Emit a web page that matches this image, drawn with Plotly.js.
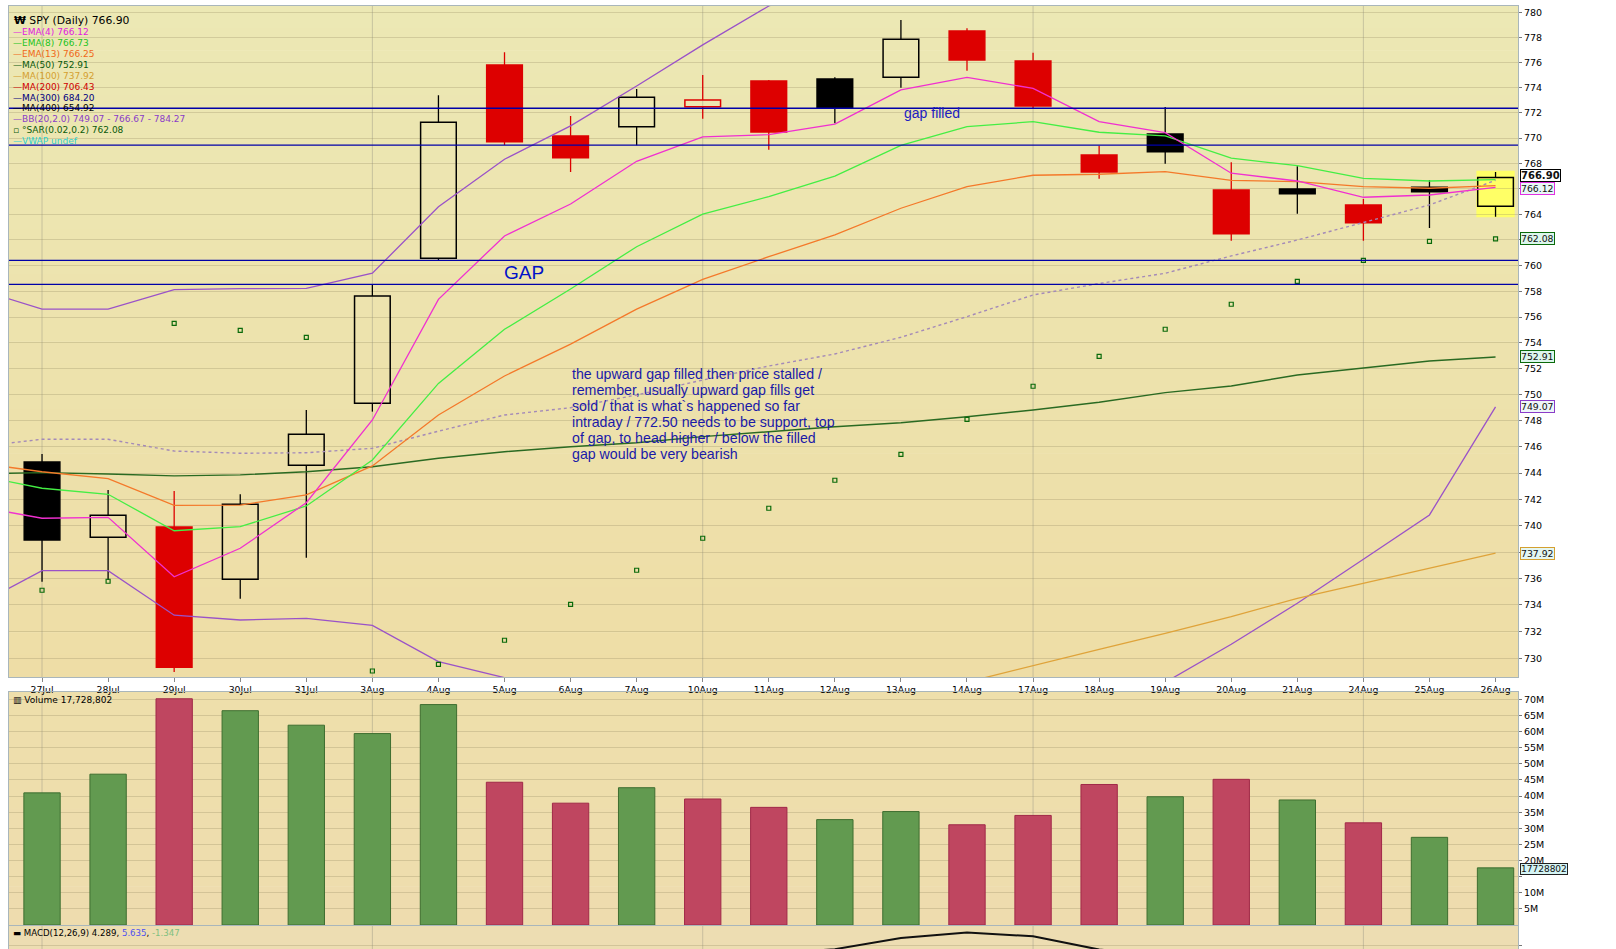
<!DOCTYPE html>
<html><head><meta charset="utf-8">
<script src="https://cdn.plot.ly/plotly-3.0.1.min.js"></script>
<style>html,body{margin:0;padding:0;background:#fff;}#chart{width:1616px;height:949px;}</style>
</head><body><div id="chart"></div>
<script>
// ---------- data ----------
const dates = ['27Jul','28Jul','29Jul','30Jul','31Jul','3Aug','4Aug','5Aug','6Aug','7Aug','10Aug','11Aug','12Aug','13Aug','14Aug','17Aug','18Aug','19Aug','20Aug','21Aug','24Aug','25Aug','26Aug'];
const mondays = ['27Jul','3Aug','10Aug','17Aug','24Aug'];
const openP  = [744.84,739.11,739.90,735.94,744.59,749.34,760.57,775.79,770.17,770.90,772.48,774.52,774.68,774.81,778.50,776.11,768.67,770.32,765.91,765.99,764.74,766.12,764.63];
const highP  = [745.45,742.71,742.63,742.38,748.83,758.49,773.39,776.80,771.75,773.89,775.00,774.60,774.81,779.38,778.72,776.77,769.40,772.46,768.09,767.78,765.21,766.70,767.33];
const lowP   = [735.76,735.89,728.97,734.47,737.57,748.70,760.43,769.45,767.33,769.43,771.53,769.08,771.17,773.99,775.34,772.36,766.80,767.98,761.94,764.05,761.94,762.93,763.82];
const closeP = [738.90,740.78,729.33,741.62,746.96,757.63,771.25,769.71,768.45,773.23,773.01,770.48,772.36,777.84,776.19,772.54,767.33,768.93,762.49,765.62,763.35,765.78,766.90];
const volumeM = [41.0,46.8,70.2,66.5,62.0,59.4,68.4,44.3,37.8,42.6,39.1,36.5,32.7,35.2,31.1,34.0,43.6,39.8,45.2,38.8,31.7,27.2,17.73];
const volumeLast = 17728802;

// indicator lines: first value belongs to the previous session (24Jul), left of the plot
const ema4  = [741.47,740.56,740.63,736.13,738.28,741.74,748.06,757.37,762.31,764.81,768.17,770.09,770.27,771.11,773.81,774.81,773.94,771.30,770.43,767.23,766.62,765.34,765.52,766.12];
const ema8  = [743.84,742.84,742.38,739.61,739.92,741.49,745.00,750.87,755.05,758.18,761.47,764.01,765.39,767.00,769.43,770.90,771.30,770.46,770.17,768.41,767.82,766.83,766.62,766.73];
const ema13 = [744.78,744.10,743.57,741.54,741.56,742.33,744.54,748.44,751.44,753.90,756.61,758.93,760.69,762.39,764.48,766.17,767.07,767.15,767.35,766.67,766.57,766.17,766.05,766.25];
const ma50  = [743.94,744.03,743.93,743.78,743.86,744.10,744.48,745.13,745.63,746.01,746.32,746.78,747.16,747.54,747.85,748.31,748.83,749.42,750.16,750.67,751.52,752.04,752.60,752.91];
const ma100 = [null,null,null,null,null,null,null,null,null,null,null,null,null,null,727.00,728.23,729.44,730.67,731.87,733.12,734.50,735.64,736.77,737.92];
const bbMid = [746.00,746.58,746.58,745.68,745.51,745.55,745.89,747.20,748.44,749.00,749.98,751.13,752.21,753.14,754.43,756.03,757.71,758.60,759.40,760.75,761.99,763.35,764.74,766.67];
const bbUp  = [758.20,756.61,756.61,758.13,758.20,758.23,759.40,764.60,768.33,770.96,774.12,777.39,780.50,782.10,784.40,787.00,789.20,790.10,790.60,790.45,789.85,789.25,788.67,784.27];
const bbLow = [733.93,736.59,736.59,733.23,732.87,733.00,732.47,729.75,728.55,727.04,725.84,724.87,723.90,724.10,724.40,725.00,726.20,727.10,728.20,731.05,734.13,737.45,740.81,749.07];
const sar   = [735.11,735.79,755.51,754.97,754.43,729.05,729.55,731.35,734.05,736.62,739.04,741.32,743.45,745.43,748.11,750.65,752.96,755.05,756.99,758.77,760.41,761.89,762.08];
const macd  = [1.1,0.8,-0.4,-0.7,-0.5,0.6,2.5,4.0,5.0,6.0,6.6,6.9,7.5,9.04,9.76,9.27,7.45,6.6,5.4,4.9,4.4,4.2,4.289];
const macdSignal = 5.635, macdHist = -1.347;
const offChartMA = {ma200: 706.43, ma300: 684.20, ma400: 654.92};
const gapLevels = [772.36, 769.45, 760.41, 758.54];
const priceTicks = [730,732,734,736,738,740,742,744,746,748,750,752,754,756,758,760,762,764,766,768,770,772,774,776,778,780];
const priceTickText = ['730','732','734','736','','740','742','744','746','748','750','752','754','756','758','760','','764','','768','770','772','774','776','778','780'];
const volTicks = [5,10,15,20,25,30,35,40,45,50,55,60,65,70];
const volTickText = ['5M','10M','','20M','25M','30M','35M','40M','45M','50M','55M','60M','65M','70M'];
const macdTicks = [8];
const noteLines = ['the upward gap filled then price stalled /','remember, usually upward gap fills get','sold / that is what`s happened so far','intraday / 772.50 needs to be support, top','of gap, to head higher / below the filled','gap would be very bearish'];

// ---------- geometry helpers ----------
const H = 949;
const py = px => (H - px) / H;
const L10 = Math.log10;
const idx = dates.map((d, i) => i);
const lineX = [-1].concat(idx);
const last = dates.length - 1;

// ---------- candles ----------
const isRed = closeP.map((c, i) => i > 0 && c < closeP[i - 1]);
const isFilled = closeP.map((c, i) => c < openP[i]);
const cCol = isRed.map(r => r ? '#dd0000' : '#000000');
const bodyBase = openP.map((o, i) => Math.min(o, closeP[i]));
const bodySize = openP.map((o, i) => Math.max(Math.abs(closeP[i] - o), 0.06));
const bodyFill = idx.map(i => isFilled[i] ? cCol[i] : 'rgba(0,0,0,0)');

function wicks(sel) {
  const x = [], y = [];
  idx.forEach(i => {
    if (!sel(i)) return;
    const top = Math.max(openP[i], closeP[i]), bot = Math.min(openP[i], closeP[i]);
    x.push(i, i, null, i, i, null);
    y.push(top, highP[i], null, lowP[i], bot, null);
  });
  return {x, y};
}
const wb = wicks(i => !isRed[i]), wr = wicks(i => isRed[i]);

const traces = [];
traces.push({type:'scatter', mode:'lines', x:wb.x, y:wb.y, line:{color:'#000', width:1.3}, hoverinfo:'skip', xaxis:'x', yaxis:'y'});
traces.push({type:'scatter', mode:'lines', x:wr.x, y:wr.y, line:{color:'#dd0000', width:1.3}, hoverinfo:'skip', xaxis:'x', yaxis:'y'});
traces.push({type:'bar', x:idx, y:bodySize, base:bodyBase, width:0.54,
  marker:{color:bodyFill, line:{color:cCol, width:1.5}}, hoverinfo:'skip', xaxis:'x', yaxis:'y'});

function line(y, color, width, dash) {
  return {type:'scatter', mode:'lines', x:lineX, y:y, line:{color:color, width:width, dash:dash||'solid'},
    connectgaps:false, hoverinfo:'skip', xaxis:'x', yaxis:'y'};
}
traces.push(line(bbUp, '#9a52c8', 1.3));
traces.push(line(bbLow, '#9a52c8', 1.3));
traces.push(line(bbMid, '#a48ab8', 1.4, 'dot'));
traces.push(line(ma100, '#dfa33a', 1.3));
traces.push(line(ma50, '#2a6a22', 1.4));
traces.push(line(ema13, '#f4792a', 1.3));
traces.push(line(ema8, '#44ee44', 1.3));
traces.push(line(ema4, '#f030d0', 1.3));
traces.push({type:'scatter', mode:'markers', x:idx, y:sar,
  marker:{symbol:'square-open', size:4, color:'#0a6a0a', line:{width:1.2, color:'#0a6a0a'}}, hoverinfo:'skip', xaxis:'x', yaxis:'y'});

// ---------- volume ----------
const volUp = closeP.map((c, i) => i === 0 || c >= closeP[i - 1]);
traces.push({type:'bar', x:idx, y:volumeM.map(v => v * 1e6), width:0.55,
  marker:{color:volUp.map(u => u ? '#629a50' : '#bf4660'), line:{color:volUp.map(u => u ? '#3e6e30' : '#a02848'), width:1}},
  hoverinfo:'skip', xaxis:'x2', yaxis:'y2'});

// ---------- MACD ----------
traces.push({type:'scatter', mode:'lines', x:idx, y:macd, line:{color:'#111', width:2}, hoverinfo:'skip', xaxis:'x3', yaxis:'y3'});

// ---------- shapes ----------
const shapes = [];
function bands(pxTop, pxBot, cTop, cBot, n) {
  for (let k = 0; k < n; k++) {
    const t = (k + 0.5) / n;
    const c = cTop.map((v, j) => Math.round(v + (cBot[j] - v) * t));
    shapes.push({type:'rect', xref:'paper', yref:'paper', x0:0, x1:1,
      y0: py(pxTop + (pxBot - pxTop) * (k + 1) / n + 0.6), y1: py(pxTop + (pxBot - pxTop) * k / n),
      fillcolor:'rgb(' + c.join(',') + ')', line:{width:0}, layer:'below'});
  }
}
bands(5.5, 677, [236,232,180], [238,221,166], 30);
bands(692, 925, [238,223,171], [238,220,174], 6);
bands(925, 949, [237,221,178], [237,221,178], 1);

// Monday grid lines, one set per panel
const panelPx = [[5.5, 677], [692, 925], [925, 949]];
panelPx.forEach(p => {
  mondays.forEach(m => {
    const i = dates.indexOf(m);
    shapes.push({type:'line', xref:'x', yref:'paper', x0:i, x1:i, y0:py(p[1]), y1:py(p[0]),
      line:{color:'rgba(130,130,120,0.35)', width:1}, layer:'below'});
  });
});
// shapes on the log price axis take data values here
shapes.push({type:'rect', xref:'x', yref:'y', x0:last - 0.29, x1:last + 0.29,
  y0:lowP[last] - 0.05, y1:highP[last] + 0.1, fillcolor:'#ffff66', line:{width:0}, layer:'below'});
gapLevels.forEach(v => {
  shapes.push({type:'line', xref:'paper', yref:'y', x0:0, x1:1, y0:v, y1:v,
    line:{color:'#0000a8', width:1.3}, layer:'above'});
});

// ---------- annotations ----------
const ann = [];
const legendFont = 'DejaVu Sans';
const legendItems = [
  ['—EMA(4) ' + ema4[ema4.length - 1].toFixed(2), '#e020e0'],
  ['—EMA(8) ' + ema8[ema8.length - 1].toFixed(2), '#22c422'],
  ['—EMA(13) ' + ema13[ema13.length - 1].toFixed(2), '#f06818'],
  ['—MA(50) ' + ma50[ma50.length - 1].toFixed(2), '#0a5a0a'],
  ['—MA(100) ' + ma100[ma100.length - 1].toFixed(2), '#d4a030'],
  ['—MA(200) ' + offChartMA.ma200.toFixed(2), '#d00000'],
  ['—MA(300) ' + offChartMA.ma300.toFixed(2), '#000080'],
  ['—MA(400) ' + offChartMA.ma400.toFixed(2), '#000000'],
  ['—BB(20,2.0) ' + bbLow[bbLow.length - 1].toFixed(2) + ' - ' + bbMid[bbMid.length - 1].toFixed(2) + ' - ' + bbUp[bbUp.length - 1].toFixed(2), '#8a3cc8'],
  ['▫ °SAR(0.02,0.2) ' + sar[last].toFixed(2), '#0a5a0a'],
  ['—VWAP undef', '#30d0d0']
];
const pxX = px => (px - 9) / 1509;
ann.push({xref:'paper', yref:'paper', x:pxX(12), y:py(20.3), xanchor:'left', yanchor:'middle', showarrow:false,
  text:'<b>₩</b> SPY (Daily) ' + closeP[last].toFixed(2), font:{family:legendFont, size:10.8, color:'#000'}});
legendItems.forEach((it, k) => {
  ann.push({xref:'paper', yref:'paper', x:pxX(11), y:py(31.7 + 10.97 * k), xanchor:'left', yanchor:'middle', showarrow:false,
    text:it[0], font:{family:legendFont, size:9, color:it[1]}});
});

// annotations on the log price axis take log10 positions
ann.push({xref:'x', yref:'y', x:7.295, y:L10(759.44), xanchor:'center', yanchor:'middle', showarrow:false,
  text:'GAP', font:{family:'Liberation Sans', size:19, color:'#0010c8'}});
ann.push({xref:'x', yref:'y', x:13.01, y:L10(771.96), xanchor:'left', yanchor:'middle', showarrow:false,
  text:'gap filled', font:{family:'Liberation Sans', size:14, color:'#2020c0'}});
noteLines.forEach((t, k) => {
  ann.push({xref:'paper', yref:'paper', x:pxX(570), y:py(374 + 16 * k), xanchor:'left', yanchor:'middle', showarrow:false,
    text:t, font:{family:'Liberation Sans', size:14.2, color:'#1a1aa8'}});
});

function priceTag(v, txt, border, bg, bold, shift) {
  ann.push({xref:'paper', yref:'y', x:1, xshift:2, yshift:shift || 0, y:L10(v), xanchor:'left', yanchor:'middle', showarrow:false,
    text: bold ? '<b>' + txt + '</b>' : txt, bgcolor:bg, bordercolor:border, borderwidth:1, borderpad:0,
    font:{family:'DejaVu Sans', size: bold ? 10 : 9.3, color:'#111'}});
}
priceTag(ma100[ma100.length - 1], ma100[ma100.length - 1].toFixed(2), '#d4a030', '#e4f6f2');
priceTag(bbLow[bbLow.length - 1], bbLow[bbLow.length - 1].toFixed(2), '#8a3cc8', '#eef6f8');
priceTag(ma50[ma50.length - 1], ma50[ma50.length - 1].toFixed(2), '#0a6a0a', '#dcf6ec');
priceTag(sar[last], sar[last].toFixed(2), '#0a6a0a', '#dcf6ec');
priceTag(ema4[ema4.length - 1], ema4[ema4.length - 1].toFixed(2), '#e030e0', '#e8f6f6', false, -1.5);
priceTag(closeP[last], closeP[last].toFixed(2), '#000', '#ffffff', true, 1.5);
ann.push({xref:'paper', yref:'y2', x:1, xshift:2, yshift:-1.5, y:volumeLast, xanchor:'left', yanchor:'middle', showarrow:false,
  text:String(volumeLast), bgcolor:'#d4f4f4', bordercolor:'#222', borderwidth:1, borderpad:0,
  font:{family:'DejaVu Sans', size:9, color:'#111'}});

ann.push({xref:'paper', yref:'paper', x:pxX(11), y:py(700), xanchor:'left', yanchor:'middle', showarrow:false,
  text:'▥ Volume ' + volumeLast.toLocaleString('en-US'), font:{family:legendFont, size:9, color:'#000'}});
ann.push({xref:'paper', yref:'paper', x:pxX(11), y:py(932.5), xanchor:'left', yanchor:'middle', showarrow:false,
  text:'▬ MACD(12,26,9) ' + macd[last].toFixed(3) + ', <span style="color:#5050f0">' + macdSignal.toFixed(3) +
       '</span>, <span style="color:#80c080">' + macdHist.toFixed(3) + '</span>',
  font:{family:legendFont, size:8.6, color:'#000'}});

// ---------- layout ----------
const grid = 'rgba(150,140,100,0.30)';
const axLine = '#a9b6bb';
const tickFont = {family:'DejaVu Sans', size:9.5, color:'#000'};
const xBase = {range:[-0.5, 22.34], showgrid:false, zeroline:false, showline:true, mirror:true, linecolor:axLine,
  tickmode:'array', tickvals:idx, ticktext:dates, fixedrange:true};
const layout = {
  width:1616, height:949, margin:{l:9, r:98, t:0, b:0}, paper_bgcolor:'#ffffff', plot_bgcolor:'rgba(0,0,0,0)',
  showlegend:false, barmode:'overlay', hovermode:false,
  xaxis: Object.assign({}, xBase, {anchor:'y', ticks:'outside', ticklen:4, tickcolor:'#888',
    tickfont:{family:'DejaVu Sans', size:9.3, color:'#000'}}),
  yaxis: {domain:[py(677), py(5.5)], type:'log', range:[L10(728.60), L10(780.54)], side:'right', anchor:'x',
    tickmode:'array', tickvals:priceTicks, ticktext:priceTickText, ticks:'outside', ticklen:3, tickcolor:'#777',
    showgrid:true, gridcolor:grid, gridwidth:1, zeroline:false, showline:true, mirror:true, linecolor:axLine, tickfont:tickFont},
  xaxis2: Object.assign({}, xBase, {anchor:'y2', showticklabels:false, ticks:''}),
  yaxis2: {domain:[py(925), py(692)], range:[0, 72.3e6], side:'right', anchor:'x2',
    tickmode:'array', tickvals:volTicks.map(v => v * 1e6), ticktext:volTickText, ticks:'outside', ticklen:3, tickcolor:'#777',
    showgrid:true, gridcolor:grid, zeroline:false, showline:true, mirror:true, linecolor:axLine, tickfont:tickFont},
  xaxis3: Object.assign({}, xBase, {anchor:'y3', showticklabels:false, ticks:''}),
  yaxis3: {domain:[0, py(925.5)], range:[7.53, 10.73], side:'right', anchor:'x3',
    tickmode:'array', tickvals:macdTicks, ticktext:macdTicks.map(String), ticks:'outside', ticklen:3, tickcolor:'#777',
    showgrid:true, gridcolor:grid, zeroline:false, showline:true, mirror:true, linecolor:axLine, tickfont:tickFont},
  shapes: shapes,
  annotations: ann
};
Plotly.newPlot('chart', traces, layout, {displayModeBar:false, staticPlot:true});
</script>
</body></html>
